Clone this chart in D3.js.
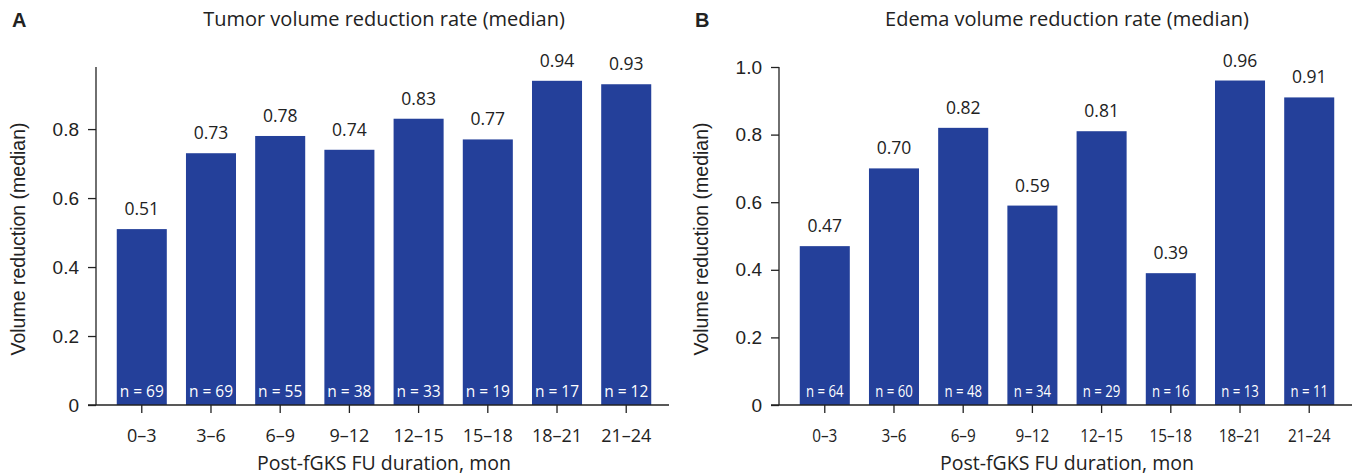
<!DOCTYPE html>
<html>
<head>
<meta charset="utf-8">
<script src="https://cdn.jsdelivr.net/npm/d3@7"></script>
<style>
  body { margin: 0; background: #fff; }
  svg text { fill: #222; }
</style>
</head>
<body>
<div id="wrapper"></div>
<script>
const categories = ["0–3", "3–6", "6–9", "9–12", "12–15", "15–18", "18–21", "21–24"];

const tumorValues = [0.51, 0.73, 0.78, 0.74, 0.83, 0.77, 0.94, 0.93];
const tumorCounts = [69, 69, 55, 38, 33, 19, 17, 12];
const tumorTicks = [0, 0.2, 0.4, 0.6, 0.8];

const edemaValues = [0.47, 0.70, 0.82, 0.59, 0.81, 0.39, 0.96, 0.91];
const edemaCounts = [64, 60, 48, 34, 29, 16, 13, 11];
const edemaTicks = [0, 0.2, 0.4, 0.6, 0.8, 1.0];

const width = 1357, height = 475;
const barColor = "#24409a";
const labelFont = "'Open Sans', 'Noto Sans', sans-serif";
const axisFont = "'Liberation Sans', Arial, sans-serif";

const svg = d3.select("#wrapper").append("svg")
  .attr("width", width)
  .attr("height", height);

function drawPanel(opts) {
  const { left, right, letter, title, values, counts, ticks, yMax, squeeze } = opts;
  const top = 67, bottom = 405;

  const x = d3.scaleBand()
    .domain(categories)
    .range([left, right])
    .paddingInner(0.277)
    .paddingOuter(0.3);

  const y = d3.scaleLinear()
    .domain([0, yMax])
    .range([bottom, top]);

  const g = svg.append("g");

  // bars
  g.selectAll("rect")
    .data(values)
    .join("rect")
    .attr("x", (d, i) => x(categories[i]))
    .attr("y", d => y(d))
    .attr("width", x.bandwidth())
    .attr("height", d => y(0) - y(d))
    .attr("fill", barColor);

  // value labels
  g.selectAll(".val")
    .data(values)
    .join("text")
    .attr("class", "val")
    .attr("x", (d, i) => x(categories[i]) + x.bandwidth() / 2)
    .attr("y", d => y(d) - 14)
    .attr("text-anchor", "middle")
    .style("font-family", labelFont)
    .style("font-size", "17.5px")
    .text(d => d.toFixed(2));

  // n labels
  g.selectAll(".n")
    .data(counts)
    .join("text")
    .attr("class", "n")
    .attr("transform", (d, i) => `translate(${x(categories[i]) + x.bandwidth() / 2},397) scale(${squeeze},1)`)
    .attr("text-anchor", "middle")
    .style("font-family", labelFont)
    .style("font-size", "15.5px")
    .style("fill", "#fff")
    .text(d => "n = " + d);

  // y axis
  const yAxis = d3.axisLeft(y)
    .tickValues(ticks)
    .tickSize(8)
    .tickPadding(9)
    .tickFormat(d => d === 0 ? "0" : d3.format(".1f")(d));
  const ya = g.append("g")
    .attr("transform", `translate(${left},0)`)
    .call(yAxis);
  ya.select(".domain").attr("d", `M0,${top}V${bottom}`).attr("stroke", "#222").attr("stroke-width", 1.3);
  ya.selectAll(".tick line").attr("stroke", "#222").attr("stroke-width", 1.3);
  ya.selectAll(".tick text")
    .style("font-family", axisFont)
    .style("font-size", "19px")
    .attr("fill", "#222");

  // x axis
  const xAxis = d3.axisBottom(x).tickSize(8).tickPadding(16);
  const xa = g.append("g")
    .attr("transform", `translate(0,${bottom})`)
    .call(xAxis);
  xa.select(".domain").attr("d", `M${left - 8},0H${right - 3}`).attr("stroke", "#222").attr("stroke-width", 1.3);
  xa.selectAll(".tick line").attr("stroke", "#222").attr("stroke-width", 1.3);
  xa.selectAll(".tick text")
    .style("font-family", labelFont)
    .style("font-size", "18px")
    .attr("fill", "#222")
    .attr("dy", "0.71em")
    .attr("transform", `scale(${squeeze},1)`);

  // titles
  const cx = (left + right) / 2;
  g.append("text")
    .attr("x", cx)
    .attr("y", 26)
    .attr("text-anchor", "middle")
    .style("font-family", labelFont)
    .style("font-size", "20px")
    .text(title);

  g.append("text")
    .attr("x", left - 84)
    .attr("y", 27)
    .style("font-family", axisFont)
    .style("font-weight", "bold")
    .style("font-size", "20px")
    .text(letter);

  g.append("text")
    .attr("transform", `translate(${left - 71},${(top + bottom) / 2 + 3}) rotate(-90)`)
    .attr("text-anchor", "middle")
    .style("font-family", axisFont)
    .style("font-size", "19.5px")
    .text("Volume reduction (median)");

  g.append("text")
    .attr("x", cx)
    .attr("y", 470)
    .attr("text-anchor", "middle")
    .style("font-family", labelFont)
    .style("font-size", "19.5px")
    .text("Post-fGKS FU duration, mon");
}

drawPanel({
  left: 96, right: 672, letter: "A",
  title: "Tumor volume reduction rate (median)",
  values: tumorValues, counts: tumorCounts, ticks: tumorTicks,
  yMax: 0.98, squeeze: 1
});

drawPanel({
  left: 779, right: 1355, letter: "B",
  title: "Edema volume reduction rate (median)",
  values: edemaValues, counts: edemaCounts, ticks: edemaTicks,
  yMax: 1.0, squeeze: 0.85
});
</script>
</body>
</html>
